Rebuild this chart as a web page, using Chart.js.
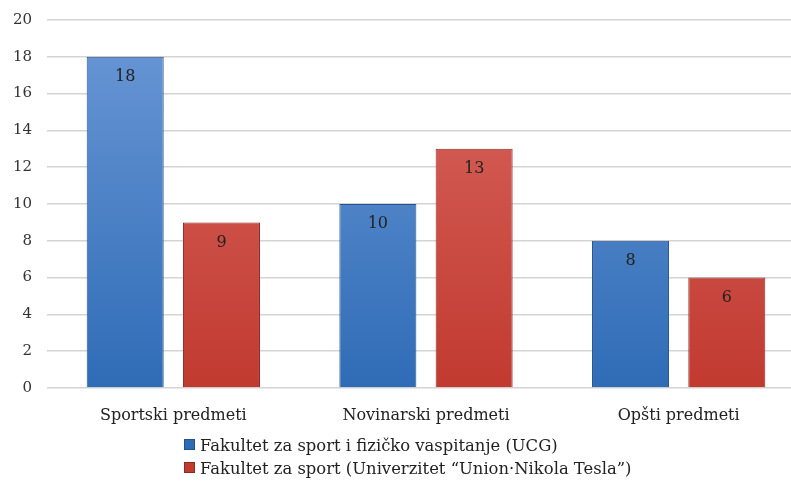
<!DOCTYPE html>
<html>
<head>
<meta charset="utf-8">
<script src="https://cdn.jsdelivr.net/npm/chart.js@4"></script>
<style>
  html, body { margin: 0; padding: 0; background: #fff; overflow: hidden; }
  #wrap { position: relative; width: 805px; height: 482px; }
  #legend { position: absolute; left: 184px; top: 434px; font-family: "DejaVu Serif", serif; font-size: 16.4px; color: #222; line-height: 23px; }
  #legend span.box { display: inline-block; width: 9px; height: 9px; margin-right: 5px; border: 1px solid; vertical-align: 1px; }
</style>
</head>
<body>
<div id="wrap">
  <canvas id="chart" width="805" height="482"></canvas>
  <div id="legend"></div>
</div>
<script>
const categories = ['Sportski predmeti', 'Novinarski predmeti', 'Opšti predmeti'];
const seriesNames = ['Fakultet za sport i fizičko vaspitanje (UCG)', 'Fakultet za sport (Univerzitet “Union·Nikola Tesla”)'];
const ucgValues = [18, 10, 8];
const unionValues = [9, 13, 6];
const yTicks = [0, 2, 4, 6, 8, 10, 12, 14, 16, 18, 20];

const fontFamily = '"DejaVu Serif", serif';

// gradient for the bar fill, top lighter, bottom darker
function barGradient(light, dark) {
  return function (context) {
    const chart = context.chart;
    const area = chart.chartArea;
    if (!area) return dark;
    const g = chart.ctx.createLinearGradient(0, area.top, 0, area.bottom);
    g.addColorStop(0, light);
    g.addColorStop(1, dark);
    return g;
  };
}

// draws the value just below the top of each bar
const valueLabels = {
  id: 'valueLabels',
  afterDatasetsDraw(chart) {
    const ctx = chart.ctx;
    ctx.save();
    ctx.font = '16px ' + fontFamily;
    ctx.fillStyle = '#222';
    ctx.textAlign = 'center';
    ctx.textBaseline = 'middle';
    chart.data.datasets.forEach((ds, i) => {
      chart.getDatasetMeta(i).data.forEach((bar, j) => {
        ctx.fillText(ds.data[j], bar.x, bar.y + 20);
      });
    });
    ctx.restore();
  }
};

const colors = [
  { light: '#6b98d6', dark: '#2f6cb6', border: '#24528c' },
  { light: '#d96861', dark: '#c13a30', border: '#8a2a22' }
];

new Chart(document.getElementById('chart'), {
  type: 'bar',
  data: {
    labels: categories,
    datasets: [
      {
        label: seriesNames[0],
        data: ucgValues,
        backgroundColor: barGradient(colors[0].light, colors[0].dark),
        borderColor: colors[0].border,
        borderWidth: 1,
        barPercentage: 0.8,
        categoryPercentage: 0.762
      },
      {
        label: seriesNames[1],
        data: unionValues,
        backgroundColor: barGradient(colors[1].light, colors[1].dark),
        borderColor: colors[1].border,
        borderWidth: 1,
        barPercentage: 0.8,
        categoryPercentage: 0.762
      }
    ]
  },
  options: {
    responsive: false,
    animation: false,
    layout: { padding: { top: 20, left: 0, right: 0, bottom: 0 } },
    scales: {
      x: {
        grid: { display: false },
        border: { display: false },
        ticks: { font: { family: fontFamily, size: 16 }, color: '#222', padding: 10 },
        afterFit(scale) { scale.height = 94; }
      },
      y: {
        min: 0,
        max: 20,
        afterBuildTicks(scale) { scale.ticks = yTicks.map(v => ({ value: v })); },
        grid: { color: '#d4d4d4', lineWidth: 1.5, drawTicks: false },
        border: { display: false },
        ticks: { font: { family: fontFamily, size: 15 }, color: '#333', padding: 15 },
        afterFit(scale) {
          scale.width = 47;
          scale.paddingTop = 0;
          scale.paddingBottom = 0;
        }
      }
    },
    plugins: {
      legend: { display: false },
      tooltip: { enabled: false }
    }
  },
  plugins: [valueLabels]
});

// html legend, one series per line
const legendEl = document.getElementById('legend');
seriesNames.forEach((name, i) => {
  const row = document.createElement('div');
  row.innerHTML = '<span class="box" style="background:' + colors[i].dark + ';border-color:' + colors[i].border + '"></span>' + name;
  legendEl.appendChild(row);
});
</script>
</body>
</html>
